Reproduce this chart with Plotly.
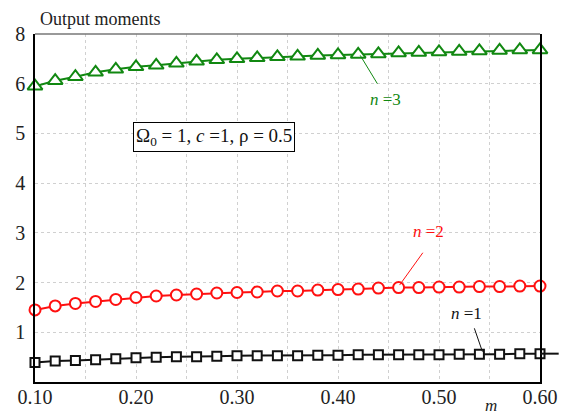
import plotly.graph_objects as go

m = [0.10, 0.12, 0.14, 0.16, 0.18, 0.20, 0.22, 0.24, 0.26, 0.28, 0.30, 0.32, 0.34,
     0.36, 0.38, 0.40, 0.42, 0.44, 0.46, 0.48, 0.50, 0.52, 0.54, 0.56, 0.58, 0.60]
n3 = [5.95, 6.06, 6.14, 6.23, 6.29, 6.34, 6.37, 6.41, 6.45, 6.48, 6.50, 6.52, 6.54,
      6.55, 6.57, 6.58, 6.59, 6.60, 6.62, 6.63, 6.64, 6.65, 6.66, 6.67, 6.68, 6.68]
n2 = [1.45, 1.53, 1.58, 1.62, 1.66, 1.70, 1.73, 1.75, 1.77, 1.79, 1.80, 1.81, 1.83,
      1.83, 1.85, 1.86, 1.87, 1.89, 1.90, 1.90, 1.91, 1.91, 1.92, 1.92, 1.93, 1.93]
n1 = [0.39, 0.42, 0.43, 0.45, 0.47, 0.49, 0.50, 0.51, 0.51, 0.52, 0.53, 0.53, 0.53,
      0.53, 0.54, 0.54, 0.55, 0.55, 0.55, 0.55, 0.55, 0.56, 0.56, 0.56, 0.57, 0.57]

x_tickvals = [0.10, 0.20, 0.30, 0.40, 0.50, 0.60]
x_ticktext = ["0.10", "0.20", "0.30", "0.40", "0.50", "0.60"]
y_tickvals = [1, 2, 3, 4, 5, 6, 7]
y_ticktext = ["1", "2", "3", "4", "5", "6", "8"]

FONT = "Liberation Serif, Times New Roman, serif"
GREEN = "#118811"
RED = "#ff1010"
BLACK = "#111111"

fig = go.Figure()
fig.add_trace(go.Scatter(x=m, y=n1, mode="lines+markers", cliponaxis=False,
                         line=dict(color=BLACK, width=2),
                         marker=dict(symbol="square", size=9, color="white",
                                     line=dict(color=BLACK, width=2))))
fig.add_trace(go.Scatter(x=m, y=n2, mode="lines+markers", cliponaxis=False,
                         line=dict(color=RED, width=2),
                         marker=dict(symbol="circle", size=11, color="white",
                                     line=dict(color=RED, width=2))))
fig.add_trace(go.Scatter(x=m, y=n3, mode="lines+markers", cliponaxis=False,
                         line=dict(color=GREEN, width=2),
                         marker=dict(symbol="triangle-up", size=13, color="white",
                                     line=dict(color=GREEN, width=2))))

fig.update_layout(
    width=564, height=415,
    margin=dict(l=35, r=24, t=34, b=33),
    paper_bgcolor="white", plot_bgcolor="white",
    showlegend=False,
    font=dict(family=FONT, size=20, color="#222"),
    xaxis=dict(range=[0.10, 0.60], tickvals=x_tickvals, ticktext=x_ticktext,
               automargin=False,
               showgrid=True, gridcolor="#d0d0d0", griddash="dot", gridwidth=1,
               minor=dict(dtick=0.05, tick0=0.05, showgrid=True, gridcolor="#d0d0d0", griddash="dot"),
               showline=True, linecolor="black", linewidth=1.5, zeroline=False,
               ticks="", ticklabelstandoff=-4, tickfont=dict(size=20, family=FONT, color="#222")),
    yaxis=dict(range=[0, 7], tickvals=y_tickvals, ticktext=y_ticktext,
               automargin=False,
               showgrid=True, gridcolor="#d0d0d0", griddash="dot", gridwidth=1,
               showline=True, linecolor="black", linewidth=1.5, mirror=True, zeroline=False,
               ticks="", ticklabelstandoff=4, tickfont=dict(size=20, family=FONT, color="#222")),
    shapes=[
        dict(type="line", xref="paper", yref="paper", x0=0, x1=1, y0=1, y1=1,
             line=dict(color="#777777", width=1.5)),
        dict(type="line", xref="paper", yref="y", x0=1, x1=1.037, y0=n1[-1], y1=n1[-1],
             line=dict(color=BLACK, width=2)),
        # leader lines
        dict(type="line", xref="x", yref="y", x0=0.422, y0=n3[16] - 0.02, x1=0.439, y1=6.0,
             line=dict(color=GREEN, width=1)),
        dict(type="line", xref="x", yref="y", x0=0.461, y0=n2[18] + 0.05, x1=0.484, y1=2.6,
             line=dict(color=RED, width=1)),
        dict(type="line", xref="x", yref="y", x0=0.543, y0=n1[22] + 0.05, x1=0.535, y1=1.08,
             line=dict(color=BLACK, width=1)),
    ],
    annotations=[
        dict(text="Output moments", xref="paper", yref="paper", x=0.006, y=1.0,
             xanchor="left", yanchor="bottom", yshift=3, showarrow=False,
             font=dict(size=18, family=FONT, color="#222")),
        dict(text="<i>m</i>", xref="paper", yref="paper", x=0.903, y=0, xanchor="center",
             yanchor="top", yshift=-12, showarrow=False, font=dict(size=17, family=FONT, color="#222")),
        dict(text="<i>n</i> =3", xref="x", yref="y", x=0.447, y=5.68, showarrow=False,
             font=dict(size=17, family=FONT, color=GREEN)),
        dict(text="<i>n</i> =2", xref="x", yref="y", x=0.490, y=3.03, showarrow=False,
             font=dict(size=17, family=FONT, color=RED)),
        dict(text="<i>n</i> =1", xref="x", yref="y", x=0.527, y=1.38, showarrow=False,
             font=dict(size=17, family=FONT, color=BLACK)),
        dict(text="Ω<sub>0</sub> = 1, <i>c</i> =1, ρ = 0.5", xref="x", yref="y", x=0.277, y=4.93,
             showarrow=False, bgcolor="white", bordercolor="black", borderwidth=1, borderpad=2,
             font=dict(size=19, family=FONT, color="#111")),
    ],
)

fig.write_html("out.html", config={"displayModeBar": False},
               post_script="document.body.style.margin='0';document.body.style.overflow='hidden';")
